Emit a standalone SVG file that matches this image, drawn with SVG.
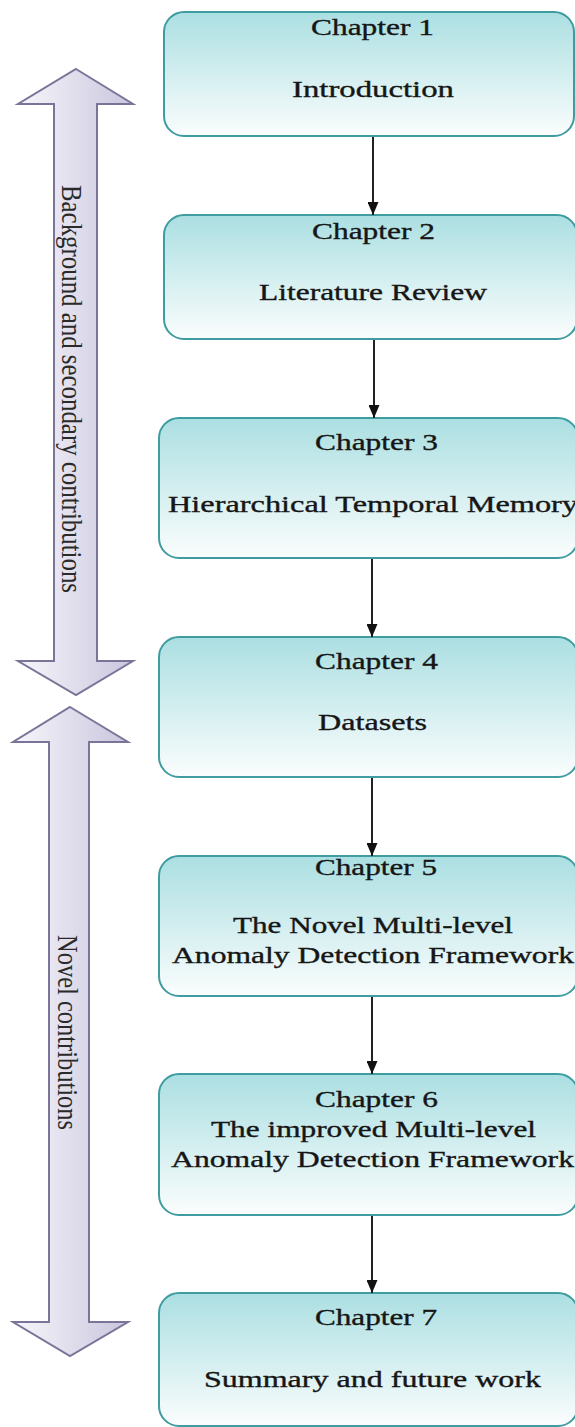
<svg xmlns="http://www.w3.org/2000/svg" width="575" height="1427" viewBox="0 0 575 1427">
  <style>
    .box { fill: url(#boxFill); stroke: #3f9ca1; stroke-width: 2; }
    .band { fill: url(#bandFill); stroke: #7a7598; stroke-width: 2; stroke-linejoin: miter; }
    .t { font-family: "Liberation Serif", "Times New Roman", serif; font-size: 23px; fill: #161616; stroke: #161616; stroke-width: 0.35; text-anchor: start; }
    .side { font-family: "Liberation Serif", "Times New Roman", serif; font-size: 24px; fill: #2a2a2a; }
    .link { stroke: #222222; stroke-width: 2; fill: none; marker-end: url(#tip); }
  </style>
  <defs>
    <linearGradient id="boxFill" x1="0" y1="0" x2="0" y2="1">
      <stop offset="0" stop-color="#abdfe2"/>
      <stop offset="1" stop-color="#fbfdfd"/>
    </linearGradient>
    <linearGradient id="bandFill" x1="0" y1="0" x2="1" y2="0">
      <stop offset="0" stop-color="#f7f6fa"/>
      <stop offset="1" stop-color="#c9c5de"/>
    </linearGradient>
    <marker id="tip" markerWidth="13" markerHeight="11" refX="13" refY="5.5" orient="auto" markerUnits="userSpaceOnUse">
      <path d="M0,0 L13,5.5 L0,11 z" fill="#111111"/>
    </marker>
  </defs>

  <!-- double-headed span arrows on the left -->
  <g id="span-background">
    <polygon class="band" points="76,69 133,104 97,104 97,661 133,661 76,695 18,661 54,661 54,104 18,104"/>
    <text class="side" transform="translate(62,185) rotate(90) scale(1,1.25)" textLength="408" lengthAdjust="spacingAndGlyphs">Background and secondary contributions</text>
  </g>
  <g id="span-novel">
    <polygon class="band" points="70,707 128,742 89,742 89,1322 128,1322 70,1356 13,1322 49,1322 49,742 13,742"/>
    <text class="side" transform="translate(58,935) rotate(90) scale(1,1.25)" textLength="195" lengthAdjust="spacingAndGlyphs">Novel contributions</text>
  </g>

  <!-- chapter nodes -->
  <g id="ch1">
    <rect class="box" x="164" y="12" width="410" height="124" rx="20"/>
    <text class="t" x="311" y="35" textLength="123" lengthAdjust="spacingAndGlyphs">Chapter 1</text>
    <text class="t" x="292" y="97" textLength="162" lengthAdjust="spacingAndGlyphs">Introduction</text>
  </g>
  <g id="ch2">
    <rect class="box" x="164" y="215" width="413" height="124" rx="20"/>
    <text class="t" x="312" y="239" textLength="123" lengthAdjust="spacingAndGlyphs">Chapter 2</text>
    <text class="t" x="259" y="300" textLength="228" lengthAdjust="spacingAndGlyphs">Literature Review</text>
  </g>
  <g id="ch3">
    <rect class="box" x="159" y="418" width="419" height="140" rx="20"/>
    <text class="t" x="315" y="450" textLength="123" lengthAdjust="spacingAndGlyphs">Chapter 3</text>
    <text class="t" x="168" y="512" textLength="410" lengthAdjust="spacingAndGlyphs">Hierarchical Temporal Memory</text>
  </g>
  <g id="ch4">
    <rect class="box" x="159" y="637" width="419" height="140" rx="20"/>
    <text class="t" x="315" y="669" textLength="123" lengthAdjust="spacingAndGlyphs">Chapter 4</text>
    <text class="t" x="318" y="730" textLength="109" lengthAdjust="spacingAndGlyphs">Datasets</text>
  </g>
  <g id="ch5">
    <rect class="box" x="159" y="856" width="419" height="140" rx="20"/>
    <text class="t" x="315" y="875" textLength="122" lengthAdjust="spacingAndGlyphs">Chapter 5</text>
    <text class="t" x="233" y="933" textLength="280" lengthAdjust="spacingAndGlyphs">The Novel Multi-level</text>
    <text class="t" x="172" y="963" textLength="402" lengthAdjust="spacingAndGlyphs">Anomaly Detection Framework</text>
  </g>
  <g id="ch6">
    <rect class="box" x="159" y="1074" width="419" height="141" rx="20"/>
    <text class="t" x="315" y="1107" textLength="123" lengthAdjust="spacingAndGlyphs">Chapter 6</text>
    <text class="t" x="211" y="1137" textLength="325" lengthAdjust="spacingAndGlyphs">The improved Multi-level</text>
    <text class="t" x="171" y="1167" textLength="403" lengthAdjust="spacingAndGlyphs">Anomaly Detection Framework</text>
  </g>
  <g id="ch7">
    <rect class="box" x="159" y="1293" width="419" height="133" rx="20"/>
    <text class="t" x="315" y="1325" textLength="122" lengthAdjust="spacingAndGlyphs">Chapter 7</text>
    <text class="t" x="204" y="1387" textLength="337" lengthAdjust="spacingAndGlyphs">Summary and future work</text>
  </g>

  <!-- sequence connectors -->
  <g id="connectors">
    <line class="link" x1="373" y1="137" x2="373" y2="215"/>
    <line class="link" x1="374" y1="340" x2="374" y2="418"/>
    <line class="link" x1="372" y1="559" x2="372" y2="637"/>
    <line class="link" x1="372" y1="778" x2="372" y2="856"/>
    <line class="link" x1="372" y1="997" x2="372" y2="1074"/>
    <line class="link" x1="372" y1="1216" x2="372" y2="1293"/>
  </g>
</svg>
